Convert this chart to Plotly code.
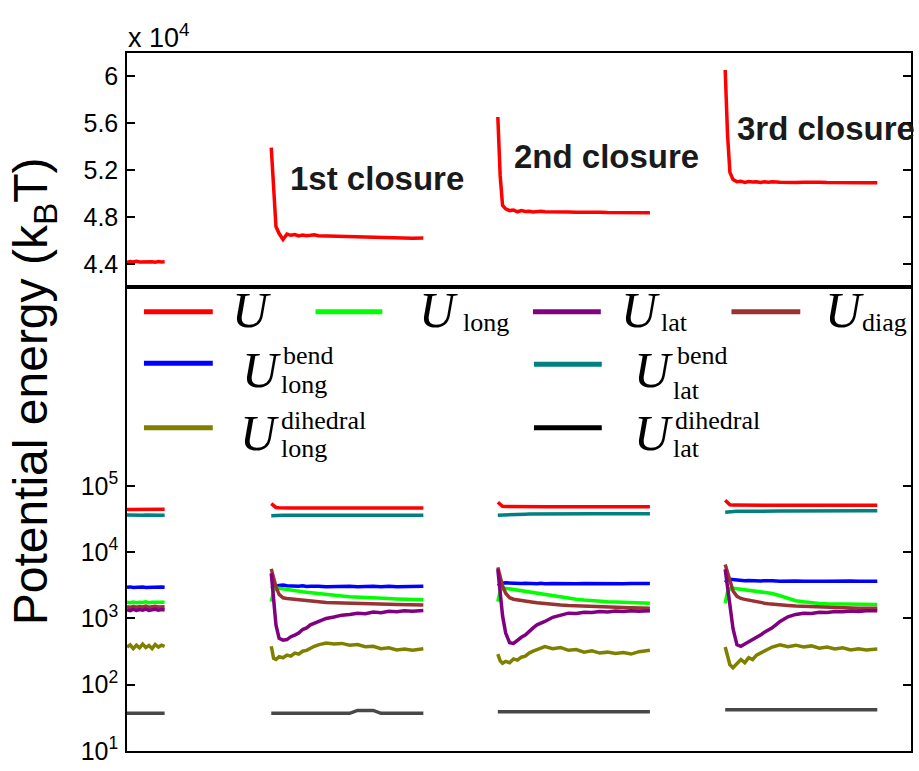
import plotly.graph_objects as go

# ---------------- data (kBT) ----------------
t_init = [0.0, 0.4, 0.8, 1.2, 1.6, 2.0, 2.4, 2.8, 3.2, 3.6, 4.0, 4.4, 4.8]
t_clos = [0.0, 0.3, 0.6, 1.0, 1.5, 2.0, 2.5, 3.0, 3.5, 4.0, 4.5, 5.0, 5.5, 6.0, 7.0, 8.0, 9.0,
          10.0, 11.0, 12.0, 13.0, 14.0, 15.0, 16.0, 17.0, 18.0, 19.4]
closure_start = [18.4, 47.3, 76.3]
closure_labels = ["1st closure", "2nd closure", "3rd closure"]

U_init = [44150, 44220, 44180, 44240, 44190, 44210, 44160, 44230, 44200, 44170, 44220, 44190, 44200]
U_c1 = [53900, 50000, 47200, 46600, 46100, 46550, 46450, 46520, 46400, 46480, 46420, 46450, 46500, 46420,
        46400, 46380, 46350, 46320, 46300, 46280, 46300, 46250, 46280, 46220, 46250, 46200, 46220]
U_c2 = [56500, 51500, 49000, 48700, 48550, 48600, 48450, 48550, 48480, 48500, 48430, 48480, 48500, 48450,
        48460, 48420, 48440, 48400, 48420, 48380, 48400, 48380, 48370, 48390, 48360, 48350, 48370]
U_c3 = [60500, 55000, 51800, 51200, 51000, 51050, 50950, 51020, 50980, 51000, 50940, 51000, 50960, 51000,
        50950, 50980, 50940, 50960, 50920, 50950, 50930, 50940, 50920, 50930, 50900, 50920, 50910]

Ulong_init = [1750, 1720, 1770, 1730, 1760, 1740, 1780, 1730, 1750, 1770, 1740, 1760, 1750]
Ulong_c1 = [1800, 2600, 2900, 2850, 2750, 2680, 2640, 2600, 2560, 2520, 2480, 2440, 2400, 2350,
            2280, 2220, 2180, 2130, 2090, 2060, 2030, 2000, 1990, 1970, 1950, 1930, 1920]
Ulong_c2 = [1800, 2600, 2900, 2850, 2780, 2700, 2680, 2640, 2600, 2520, 2450, 2400, 2360, 2300,
            2200, 2100, 2000, 1950, 1900, 1850, 1820, 1790, 1770, 1750, 1740, 1720, 1700]
Ulong_c3 = [1700, 2500, 2800, 2850, 2800, 2750, 2720, 2700, 2640, 2600, 2550, 2480, 2420, 2380,
            2200, 2000, 1850, 1780, 1720, 1680, 1660, 1650, 1640, 1630, 1620, 1630, 1620]

Ulat_init = [1350, 1310, 1370, 1320, 1360, 1330, 1380, 1320, 1350, 1370, 1330, 1360, 1340]
Ulat_c1 = [4800, 2000, 800, 500, 470, 480, 530, 560, 600, 680, 720, 800, 850, 880,
           1000, 1050, 1120, 1150, 1200, 1180, 1250, 1220, 1280, 1260, 1310, 1280, 1320]
Ulat_c2 = [5500, 2500, 1100, 600, 430, 420, 470, 520, 560, 640, 720, 800, 840, 900,
           1040, 1120, 1200, 1190, 1240, 1230, 1270, 1250, 1290, 1270, 1300, 1280, 1310]
Ulat_c3 = [5500, 3000, 1500, 700, 400, 380, 410, 440, 480, 520, 560, 620, 680, 720,
           900, 1060, 1150, 1200, 1190, 1240, 1230, 1270, 1260, 1290, 1270, 1300, 1300]

Udiag_init = [1500, 1470, 1520, 1480, 1510, 1490, 1530, 1480, 1500, 1520, 1490, 1510, 1500]
Udiag_c1 = [5600, 4200, 3000, 2300, 2050, 2000, 1970, 1950, 1920, 1890, 1870, 1840, 1810, 1790,
            1740, 1720, 1700, 1680, 1670, 1660, 1650, 1640, 1630, 1620, 1620, 1610, 1600]
Udiag_c2 = [5900, 4400, 3100, 2400, 2050, 1950, 1920, 1880, 1850, 1800, 1760, 1720, 1690, 1660,
            1620, 1590, 1560, 1540, 1520, 1500, 1490, 1480, 1470, 1460, 1450, 1440, 1420]
Udiag_c3 = [6500, 5000, 3500, 2600, 2150, 2000, 1940, 1880, 1830, 1780, 1740, 1700, 1670, 1640,
            1600, 1570, 1540, 1520, 1500, 1480, 1470, 1460, 1450, 1440, 1430, 1430, 1420]

Ulongbend_init = [2950, 2990, 2920, 2970, 2930, 2980, 2940, 2960, 2920, 2990, 2940, 2970, 2950]
Ulongbend_c1 = [2800, 2950, 3050, 3150, 3200, 3120, 3080, 3120, 3060, 3100, 3030, 3070, 3020, 3060,
                3000, 3050, 3010, 3060, 3000, 3040, 3050, 3010, 3060, 3000, 3040, 3020, 3050]
Ulongbend_c2 = [3100, 3300, 3400, 3450, 3420, 3380, 3420, 3360, 3400, 3350, 3390, 3340, 3380, 3330,
                3370, 3340, 3380, 3330, 3360, 3340, 3380, 3330, 3360, 3340, 3370, 3340, 3360]
Ulongbend_c3 = [3500, 3800, 3900, 3850, 3800, 3750, 3710, 3740, 3690, 3720, 3680, 3710, 3660, 3700,
                3650, 3690, 3660, 3640, 3680, 3650, 3630, 3670, 3640, 3660, 3630, 3660, 3650]

Ulatbend_init = [36200, 36000, 36300, 35900, 36100, 35950, 36250, 36000, 36100, 35900, 36150, 36000, 36050]
Ulatbend_c1 = [35500, 35800, 36000, 36100, 36000, 36050, 35950, 36100, 35950, 36000, 36100, 36000, 35950,
               36050, 36000, 36100, 36000, 35900, 36000, 36050, 36000, 35950, 36000, 36050, 36000, 35950, 36000]
Ulatbend_c2 = [36000, 36200, 36500, 36800, 37000, 37200, 37300, 37400, 37450, 37500, 37600, 37700, 37750,
               37800, 37900, 38000, 38000, 38100, 38000, 38050, 38100, 38000, 38050, 38100, 38000, 38050, 38100]
Ulatbend_c3 = [40000, 40500, 41000, 41200, 41300, 41500, 41400, 41600, 41500, 41600, 41500, 41700, 41600,
               41700, 41600, 41800, 41700, 41800, 41900, 41800, 41900, 42000, 41900, 42000, 41900, 42000, 42000]

Ulongdih_init = [370, 400, 350, 395, 360, 410, 365, 390, 350, 405, 370, 395, 380]
Ulongdih_c1 = [380, 250, 240, 265, 255, 280, 270, 300, 290, 320, 330, 360, 380, 400,
               425, 410, 420, 395, 405, 375, 380, 350, 360, 335, 345, 330, 350]
Ulongdih_c2 = [290, 230, 210, 225, 215, 245, 235, 260, 270, 300, 320, 340, 360, 375,
               350, 365, 330, 340, 310, 325, 300, 310, 295, 305, 290, 315, 330]
Ulongdih_c3 = [370, 260, 200, 180, 205, 240, 215, 255, 240, 280, 300, 320, 345, 370,
               400, 375, 395, 370, 385, 355, 370, 345, 360, 335, 350, 335, 345]

Ulatdih_init = [37, 37, 37, 37, 37, 37, 37, 37, 37, 37, 37, 37, 37]
Ulatdih_c1 = [37, 37, 37, 37, 37, 37, 37, 37, 37, 37, 37, 37, 37, 37,
              37, 37, 37, 37, 41, 41, 41, 37, 37, 37, 37, 37, 37]
Ulatdih_c2 = [39, 39, 39, 39, 39, 39, 39, 39, 39, 39, 39, 39, 39, 39,
              39, 39, 39, 39, 39, 39, 39, 39, 39, 39, 39, 39, 39]
Ulatdih_c3 = [42, 42, 42, 42, 42, 42, 42, 42, 42, 42, 42, 42, 42, 42,
              42, 42, 42, 42, 42, 42, 42, 42, 42, 42, 42, 42, 42]

top_tickvals = [44000, 48000, 52000, 56000, 60000]
top_ticktext = ["4.4", "4.8", "5.2", "5.6", "6"]
log_tickvals = [10, 100, 1000, 10000, 100000]
log_ticktext = ["10<sup>1</sup>", "10<sup>2</sup>", "10<sup>3</sup>", "10<sup>4</sup>", "10<sup>5</sup>"]

series = [
    ("U", "#ff0000", [U_init, U_c1, U_c2, U_c3]),
    ("Ulatbend", "#008080", [Ulatbend_init, Ulatbend_c1, Ulatbend_c2, Ulatbend_c3]),
    ("Ulongbend", "#0000ff", [Ulongbend_init, Ulongbend_c1, Ulongbend_c2, Ulongbend_c3]),
    ("Ulong", "#00ff00", [Ulong_init, Ulong_c1, Ulong_c2, Ulong_c3]),
    ("Udiag", "#993333", [Udiag_init, Udiag_c1, Udiag_c2, Udiag_c3]),
    ("Ulat", "#800080", [Ulat_init, Ulat_c1, Ulat_c2, Ulat_c3]),
    ("Ulongdih", "#808000", [Ulongdih_init, Ulongdih_c1, Ulongdih_c2, Ulongdih_c3]),
    ("Ulatdih", "#484848", [Ulatdih_init, Ulatdih_c1, Ulatdih_c2, Ulatdih_c3]),
]


def build(segs):
    xs, ys = [], []
    xs += list(t_init)
    ys += list(segs[0])
    for s, vals in zip(closure_start, segs[1:]):
        xs.append(None)
        ys.append(None)
        xs += [s + t for t in t_clos]
        ys += list(vals)
    return xs, ys


# ---------------- figure ----------------
W, H = 919, 771
L, R, T, B = 127, 6, 53, 14
PW, PH = W - L - R, H - T - B
split_px = 289               # pixel y of the panel divider


def px(xp):  # pixel -> paper
    return (xp - L) / PW


def py(yp):
    return (H - B - yp) / PH


dom_split = py(split_px)

fig = go.Figure()

xs, ys = build(series[0][2])
fig.add_trace(go.Scatter(x=xs, y=ys, mode="lines", line=dict(color="#ff0000", width=3.5),
                         xaxis="x2", yaxis="y2", showlegend=False, hoverinfo="skip"))

for name, col, segs in series:
    xs, ys = build(segs)
    fig.add_trace(go.Scatter(x=xs, y=ys, mode="lines", line=dict(color=col, width=3.5),
                             xaxis="x", yaxis="y", showlegend=False, name=name,
                             hoverinfo="skip"))

axis_common = dict(showline=True, linecolor="black", linewidth=1.5, mirror=True,
                   showgrid=False, zeroline=False)
tickfont = dict(family="Liberation Sans, Arial, sans-serif", size=25, color="black")

fig.update_layout(
    width=W, height=H,
    margin=dict(l=L, r=R, t=T, b=B),
    paper_bgcolor="white", plot_bgcolor="white",
    showlegend=False,
    xaxis=dict(domain=[0, 1], range=[0, 100], showticklabels=False, ticks="",
               anchor="y", **axis_common),
    yaxis=dict(domain=[0, dom_split], type="log", range=[1, 8], anchor="x",
               tickvals=log_tickvals, ticktext=log_ticktext,
               ticks="inside", ticklen=8, tickwidth=1.5, tickcolor="black",
               tickfont=tickfont, ticklabelstandoff=2,
               **{**axis_common, "mirror": "ticks"}),
    xaxis2=dict(domain=[0, 1], range=[0, 100], showticklabels=False, ticks="",
                anchor="y2", **axis_common),
    yaxis2=dict(domain=[dom_split, 1], range=[42060, 61940], anchor="x2",
                tickvals=top_tickvals, ticktext=top_ticktext,
                ticks="inside", ticklen=8, tickwidth=1.5, tickcolor="black",
                tickfont=tickfont, ticklabelstandoff=2,
                **{**axis_common, "mirror": "ticks"}),
)

ann = []
ann.append(dict(x=px(126), y=py(36), xref="paper", yref="paper", xanchor="left", yanchor="middle",
                text="x 10<sup>4</sup>", showarrow=False,
                font=dict(family="Liberation Sans, Arial, sans-serif", size=27, color="black")))
ann.append(dict(x=px(34), y=py(394), xref="paper", yref="paper", xanchor="center", yanchor="middle",
                text="Potential energy (k<sub>B</sub>T)", textangle=-90, showarrow=False,
                font=dict(family="Liberation Sans, Arial, sans-serif", size=48, color="black")))
for (lx, ly), lab in zip([(288, 180), (513, 157), (737, 129)], closure_labels):
    ann.append(dict(x=px(lx), y=py(ly), xref="paper", yref="paper", xanchor="left", yanchor="middle",
                    text="<b>" + lab + "</b>", showarrow=False,
                    font=dict(family="Liberation Sans, Arial, sans-serif", size=33, color="#1a1a1a")))

serif = "Liberation Serif, Times New Roman, serif"
leg_lines = [
    (144, 213, 314, "#ff0000"), (316, 383, 314, "#00ff00"), (534, 602, 314, "#800080"),
    (733, 802, 314, "#993333"),
    (144, 213, 366, "#0000ff"), (535, 603, 367, "#008080"),
    (144, 213, 431, "#808000"), (535, 603, 431, "#000000"),
]
shapes = []
for x0, x1, yy, c in leg_lines:
    shapes.append(dict(type="line", xref="paper", yref="paper", x0=px(x0), x1=px(x1),
                       y0=py(yy), y1=py(yy), line=dict(color=c, width=5)))

U_SIZE = 50
S_SIZE = 26


def big_u(x, yc):
    ann.append(dict(x=px(x), y=py(yc), xref="paper", yref="paper", xanchor="left", yanchor="middle",
                    text="<i>U</i>", showarrow=False,
                    font=dict(family=serif, size=U_SIZE, color="black")))


def small(x, baseline, txt):
    ann.append(dict(x=px(x), y=py(baseline - 0.3375 * S_SIZE), xref="paper", yref="paper",
                    xanchor="left", yanchor="middle", text=txt, showarrow=False,
                    font=dict(family=serif, size=S_SIZE, color="black")))


big_u(230, 312); big_u(418, 312); big_u(620, 312); big_u(825, 312)
small(462, 334, "long"); small(660, 334, "lat"); small(862, 334, "diag")
big_u(240, 373); small(281, 367, "bend"); small(279, 396, "long")
big_u(633, 373); small(676, 367, "bend"); small(672, 402, "lat")
big_u(238, 436); small(279, 432, "dihedral"); small(279, 461, "long")
big_u(633, 436); small(674, 432, "dihedral"); small(672, 461, "lat")

fig.update_layout(annotations=ann, shapes=shapes)

# the page body has a default 8px margin; remove it so the figure fills the window exactly
page_fix = "document.body.style.margin='0';document.body.style.overflow='hidden';"
fig.write_html("out.html", post_script=page_fix, config={"displayModeBar": False})
